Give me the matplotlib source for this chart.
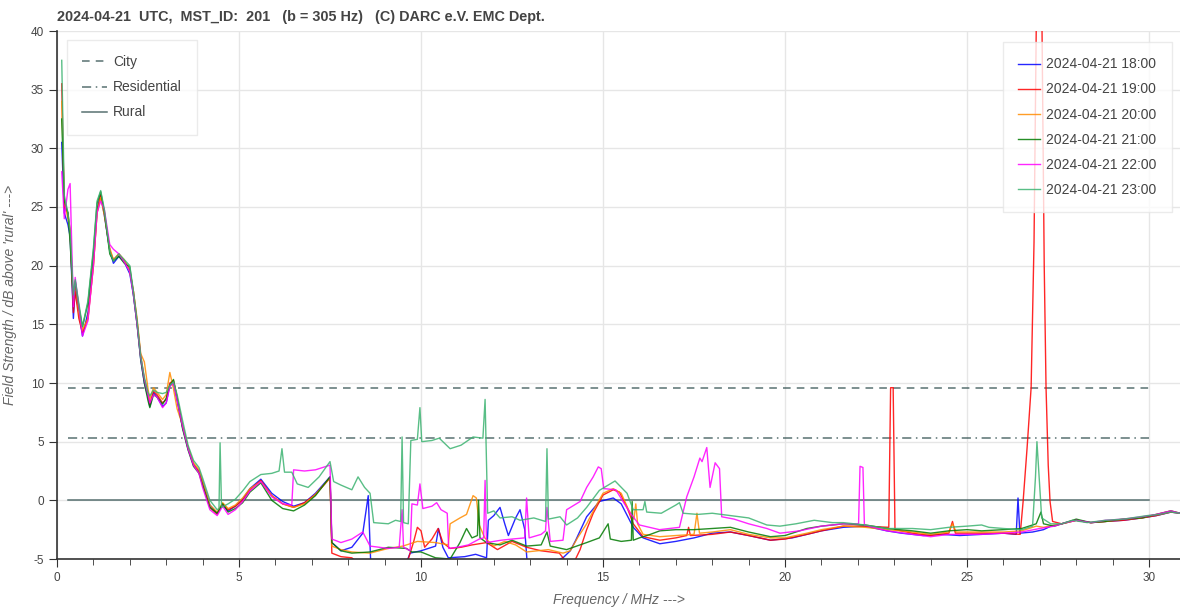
import matplotlib.pyplot as plt
import numpy as np

plt.rcParams['font.family'] = ['Liberation Sans', 'DejaVu Sans']
plt.rcParams['axes.unicode_minus'] = False

# noise level per hour, dB above 'rural'
f_1800 = [0.13, 0.2, 0.3, 0.36, 0.45, 0.5, 0.6, 0.7, 0.85, 1.0, 1.1, 1.2, 1.3, 1.45, 1.55, 1.7, 1.85, 2.0, 2.1, 2.2,
          2.3, 2.4, 2.5, 2.55, 2.65, 2.75, 2.9, 3.0, 3.1, 3.2, 3.3, 3.45, 3.6, 3.75, 3.9, 4.0, 4.2, 4.4, 4.55, 4.7,
          4.9, 5.1, 5.3, 5.6, 5.9, 6.2, 6.5, 6.8, 7.1, 7.5, 7.55, 7.8, 8.1, 8.4, 8.55, 8.62, 9.0, 9.6, 9.7, 10.0,
          10.4, 10.48, 10.6, 10.75, 11.2, 11.5, 11.8, 11.85, 12.0, 12.17, 12.3, 12.4, 12.6, 12.72, 12.85, 12.92, 13.5, 13.9, 14.1, 14.25,
          14.55, 14.9, 15.28, 15.5, 15.83, 16.1, 16.56, 17.0, 17.5, 18.0, 18.5, 19.0, 19.6, 20.2, 20.6, 21.0, 21.6, 22.2, 22.8, 23.2,
          23.8, 24.3, 24.8, 25.4, 26.0, 26.35, 26.4, 26.45, 26.8, 27.1, 27.3, 27.6, 28.0, 28.4, 28.8, 29.3, 29.8, 30.2, 30.6, 30.85]
v_1800 = [30.5, 24.5, 23.5, 22.5, 15.5, 18.0, 16.0, 14.0, 16.0, 20.5, 24.8, 26.0, 24.3, 21.3, 20.2, 20.8, 20.3, 19.3, 17.5, 15.0,
          12.0, 10.0, 8.8, 8.0, 9.2, 8.8, 8.0, 8.3, 9.8, 10.0, 8.5, 6.2, 4.4, 3.0, 2.5, 1.6, -0.4, -1.1, -0.4, -0.9,
          -0.5, 0.1, 1.0, 1.8, 0.6, -0.1, -0.5, -0.2, 0.6, 2.0, -3.6, -4.3, -4.0, -2.8, 0.4, -5.5, -5.5, -5.3, -4.5, -4.3,
          -3.9, -2.4, -4.0, -4.9, -4.8, -4.6, -4.9, -1.7, -1.3, -0.6, -2.0, -3.0, -1.5, -0.8, -2.5, -5.5, -5.4, -4.9, -4.3, -3.4,
          -1.4, -0.1, 0.2, -0.3, -2.3, -3.2, -3.7, -3.5, -3.2, -2.8, -2.7, -3.0, -3.4, -3.2, -2.9, -2.6, -2.3, -2.2, -2.6, -2.8,
          -3.0, -2.9, -3.0, -2.9, -2.8, -2.9, 0.2, -2.8, -2.7, -2.5, -2.2, -2.0, -1.7, -1.9, -1.8, -1.7, -1.5, -1.3, -1.0, -1.1]

f_1900 = [0.13, 0.2, 0.3, 0.36, 0.45, 0.5, 0.6, 0.7, 0.85, 1.0, 1.1, 1.2, 1.3, 1.45, 1.55, 1.7, 1.85, 2.0, 2.1, 2.2,
          2.3, 2.4, 2.5, 2.55, 2.65, 2.75, 2.9, 3.0, 3.1, 3.2, 3.3, 3.45, 3.6, 3.75, 3.9, 4.0, 4.2, 4.4, 4.55, 4.7,
          4.9, 5.1, 5.3, 5.6, 5.9, 6.2, 6.5, 6.8, 7.1, 7.5, 7.55, 7.8, 8.1, 8.3, 9.6, 9.8, 9.9, 10.0, 10.1, 10.3,
          10.47, 10.6, 10.8, 11.1, 11.4, 11.8, 12.1, 12.5, 12.9, 13.3, 13.8, 14.0, 14.2, 14.37, 14.55, 14.73, 15.0, 15.28, 15.45, 15.66,
          15.83, 16.1, 16.56, 17.0, 17.3, 17.35, 17.4, 18.0, 18.5, 19.0, 19.6, 20.0, 20.6, 21.0, 21.6, 22.2, 22.85, 22.9, 22.97, 23.02,
          23.5, 24.0, 24.5, 24.6, 24.68, 25.4, 26.0, 26.46, 26.54, 26.65, 26.76, 26.84, 26.9, 26.98, 27.06, 27.12, 27.17, 27.23, 27.28, 27.35,
          27.6, 28.0, 28.4, 28.8, 29.3, 29.8, 30.2, 30.6, 30.85]
v_1900 = [35.5, 25.0, 24.5, 23.0, 16.0, 17.8, 15.5, 14.3, 15.5, 20.0, 24.5, 26.0, 24.5, 21.3, 20.5, 21.0, 20.4, 19.6, 17.8, 15.2,
          12.3, 10.3, 9.0, 8.2, 9.3, 9.0, 8.3, 8.6, 10.0, 10.2, 8.8, 6.3, 4.5, 3.1, 2.4, 1.4, -0.6, -1.2, -0.3, -0.8,
          -0.5, 0.0, 0.9, 1.7, 0.4, -0.3, -0.6, -0.2, 0.5, 1.9, -4.5, -4.8, -4.9, -5.5, -5.5, -3.5, -2.3, -2.6, -4.0, -3.3,
          -2.4, -3.6, -4.1, -4.0, -3.8, -3.6, -4.2, -3.5, -4.0, -4.3, -4.5, -5.3, -5.3, -4.2, -2.5, -1.1, 0.45, 0.9, 0.7, -0.6,
          -2.0, -3.1, -3.4, -3.2, -3.0, -2.3, -3.0, -2.9, -2.7, -3.0, -3.4, -3.3, -2.9, -2.6, -2.2, -2.2, -2.3, 9.6, 9.6, -2.5,
          -2.8, -3.0, -2.8, -1.8, -2.8, -2.8, -2.8, -2.9, -0.1, 4.5, 9.6, 22.0, 40.0, 50.0, 40.0, 20.0, 9.6, 3.0, -0.1, -1.8,
          -2.0, -1.7, -1.9, -1.8, -1.7, -1.5, -1.3, -1.0, -1.1]

f_2000 = [0.13, 0.2, 0.3, 0.36, 0.45, 0.5, 0.6, 0.7, 0.85, 1.0, 1.1, 1.2, 1.3, 1.45, 1.55, 1.7, 1.85, 2.0, 2.1, 2.2,
          2.3, 2.4, 2.5, 2.55, 2.65, 2.75, 2.9, 3.0, 3.1, 3.2, 3.3, 3.45, 3.6, 3.75, 3.9, 4.0, 4.2, 4.4, 4.55, 4.7,
          4.9, 5.1, 5.3, 5.6, 5.9, 6.2, 6.5, 6.8, 7.1, 7.5, 7.55, 7.8, 8.1, 8.6, 9.1, 9.5, 9.9, 10.4, 10.75, 10.8,
          11.07, 11.25, 11.43, 11.52, 11.6, 11.75, 12.0, 12.3, 12.6, 12.9, 13.5, 13.9, 14.1, 14.3, 14.55, 14.8, 15.0, 15.28, 15.5, 15.7,
          15.85, 15.9, 15.95, 16.1, 16.56, 17.0, 17.5, 17.58, 17.65, 18.0, 18.5, 19.0, 19.6, 20.0, 20.6, 21.0, 21.6, 22.2, 22.8, 23.5,
          24.0, 24.5, 24.6, 24.7, 25.4, 26.0, 26.5, 26.9, 27.1, 27.4, 27.6, 28.0, 28.4, 28.8, 29.3, 29.8, 30.2, 30.6, 30.85]
v_2000 = [34.0, 25.5, 24.0, 23.0, 17.0, 18.5, 16.0, 14.5, 15.5, 20.0, 24.5, 25.8, 24.3, 21.5, 20.5, 21.0, 20.5, 19.5, 17.8, 15.5,
          12.5, 11.8, 9.5, 8.6, 9.6, 9.2, 8.6, 9.0, 10.9, 9.5, 7.8, 6.4, 4.5, 3.2, 2.6, 1.6, -0.4, -1.0, -0.2, -0.7,
          -0.4, 0.2, 1.0, 1.6, 0.4, -0.3, -0.6, -0.3, 0.5, 1.9, -3.9, -4.2, -4.4, -4.5, -4.1, -3.9, -3.5, -3.6, -3.8, -2.0,
          -1.5, -1.2, 0.4, 0.2, -2.1, -3.2, -3.9, -3.5, -3.8, -4.4, -4.2, -4.5, -4.3, -3.2, -2.0, -0.5, 0.6, 1.0, 0.6, -0.8,
          -1.6, -0.3, -2.0, -2.9, -3.1, -3.0, -2.9, -1.1, -2.8, -2.7, -2.5, -2.9, -3.2, -3.2, -2.8, -2.5, -2.2, -2.3, -2.5, -2.7,
          -2.9, -2.7, -2.0, -2.7, -2.7, -2.7, -2.6, -2.2, -2.3, -2.1, -2.0, -1.7, -1.9, -1.8, -1.6, -1.5, -1.2, -0.9, -1.1]

f_2100 = [0.13, 0.2, 0.3, 0.36, 0.45, 0.5, 0.6, 0.7, 0.85, 1.0, 1.1, 1.2, 1.3, 1.45, 1.55, 1.7, 1.85, 2.0, 2.1, 2.2,
          2.3, 2.4, 2.5, 2.55, 2.65, 2.75, 2.9, 3.0, 3.1, 3.2, 3.3, 3.45, 3.6, 3.75, 3.9, 4.0, 4.2, 4.4, 4.55, 4.7,
          4.9, 5.1, 5.3, 5.6, 5.9, 6.2, 6.5, 6.8, 7.1, 7.5, 7.55, 7.8, 8.1, 8.6, 9.1, 9.6, 9.75, 10.0, 10.4, 10.8,
          11.07, 11.25, 11.4, 11.55, 11.58, 11.62, 11.8, 12.17, 12.5, 12.9, 13.3, 13.46, 13.55, 14.0, 14.55, 14.9, 15.14, 15.2, 15.5, 15.78,
          15.8, 15.83, 16.0, 16.3, 16.56, 17.0, 17.5, 18.0, 18.5, 19.0, 19.6, 20.0, 20.6, 21.0, 21.6, 22.2, 22.8, 23.5, 24.0, 24.5,
          25.0, 25.4, 26.0, 26.5, 26.9, 27.03, 27.1, 27.4, 27.7, 28.0, 28.4, 28.8, 29.3, 29.8, 30.2, 30.6, 30.85]
v_2100 = [32.5, 25.5, 24.5, 22.0, 17.0, 18.7, 16.5, 14.8, 16.8, 21.2, 25.3, 26.3, 24.6, 21.0, 20.4, 20.8, 20.2, 19.9, 17.5, 15.0,
          12.0, 10.0, 8.5, 7.9, 9.0, 8.8, 8.2, 8.7, 9.8, 10.3, 8.7, 6.1, 4.3, 2.9, 2.3, 1.3, -0.6, -1.1, -0.3, -1.0,
          -0.7, -0.2, 0.7, 1.5, 0.0, -0.7, -0.9, -0.4, 0.4, 2.0, -3.6, -4.3, -4.5, -4.4, -4.0, -4.1, -4.4, -4.4, -4.9, -5.0,
          -3.6, -2.4, -3.2, -3.0, 0.0, -3.2, -3.6, -3.8, -3.4, -3.9, -3.8, -2.7, -3.9, -4.2, -3.6, -3.2, -2.0, -3.3, -3.5, -3.4,
          -0.1, -3.4, -3.2, -2.9, -2.6, -2.5, -2.5, -2.4, -2.3, -2.7, -3.1, -3.0, -2.4, -2.2, -2.0, -2.1, -2.4, -2.6, -2.8, -2.6,
          -2.5, -2.6, -2.5, -2.4, -2.0, -1.0, -2.0, -2.2, -1.9, -1.6, -1.9, -1.8, -1.6, -1.5, -1.2, -0.9, -1.1]

f_2200 = [0.13, 0.2, 0.3, 0.36, 0.45, 0.5, 0.6, 0.7, 0.85, 1.0, 1.1, 1.2, 1.3, 1.45, 1.55, 1.7, 1.85, 2.0, 2.1, 2.2,
          2.3, 2.4, 2.5, 2.55, 2.65, 2.75, 2.9, 3.0, 3.1, 3.2, 3.3, 3.45, 3.6, 3.75, 3.9, 4.0, 4.2, 4.4, 4.55, 4.7,
          4.9, 5.1, 5.3, 5.6, 5.9, 6.2, 6.45, 6.5, 6.8, 7.1, 7.3, 7.5, 7.55, 7.8, 8.1, 8.4, 8.6, 9.1, 9.4, 9.48,
          9.52, 9.7, 9.75, 9.9, 9.97, 10.05, 10.3, 10.43, 10.55, 10.72, 10.76, 11.0, 11.3, 11.6, 11.72, 11.76, 11.8, 12.2, 12.5, 12.85,
          12.9, 12.97, 13.3, 13.42, 13.46, 13.55, 13.9, 14.0, 14.37, 14.55, 14.73, 14.87, 14.95, 15.02, 15.35, 15.75, 16.0, 16.55, 17.1, 17.3,
          17.5, 17.66, 17.72, 17.85, 17.94, 18.08, 18.2, 18.26, 18.6, 19.0, 19.5, 19.86, 20.4, 21.0, 21.6, 22.02, 22.06, 22.14, 22.18, 22.8,
          23.5, 24.0, 24.5, 25.0, 25.4, 26.0, 26.5, 27.0, 27.4, 27.7, 28.0, 28.4, 28.8, 29.3, 29.8, 30.2, 30.6, 30.85]
v_2200 = [28.0, 24.0, 26.5, 27.0, 16.5, 19.0, 16.5, 14.0, 15.3, 20.0, 24.5, 25.5, 24.8, 21.8, 21.4, 21.0, 20.3, 19.5, 17.5, 15.0,
          12.2, 10.3, 9.0, 8.3, 9.0, 8.8, 7.9, 8.3, 9.7, 10.0, 8.5, 6.3, 4.4, 3.0, 2.3, 1.1, -0.8, -1.3, -0.5, -1.2,
          -0.8, -0.1, 0.8, 1.6, 0.3, -0.3, -0.4, 2.6, 2.5, 2.6, 2.8, 3.0, -3.3, -3.6, -3.3, -2.7, -3.9, -4.1, -4.0, -0.8,
          -4.0, -4.3, -0.3, -0.4, 1.4, -0.7, -0.5, -0.2, -0.8, -1.1, -4.1, -4.0, -3.8, -3.3, -3.2, 1.7, -3.6, -3.4, -3.3, -3.2,
          0.2, -3.2, -2.9, -2.6, -0.6, -3.5, -3.4, -0.8, -0.1, 1.1, 2.0, 2.85, 2.7, 1.0, 0.9, -1.1, -2.1, -2.5, -2.3, 0.3,
          2.0, 3.6, 3.3, 4.5, 1.1, 3.2, 2.7, -1.4, -1.6, -2.0, -2.4, -2.8, -2.6, -2.2, -2.0, -2.0, 2.9, 2.8, -2.1, -2.6,
          -2.9, -3.1, -2.9, -2.9, -2.9, -2.8, -2.7, -2.4, -2.2, -1.9, -1.7, -1.9, -1.7, -1.6, -1.4, -1.2, -0.9, -1.1]

f_2300 = [0.13, 0.2, 0.3, 0.36, 0.45, 0.5, 0.6, 0.7, 0.85, 1.0, 1.1, 1.2, 1.3, 1.45, 1.55, 1.7, 1.85, 2.0, 2.1, 2.2,
          2.3, 2.4, 2.5, 2.55, 2.65, 2.75, 2.9, 3.0, 3.1, 3.2, 3.3, 3.45, 3.6, 3.75, 3.9, 4.0, 4.2, 4.4, 4.45, 4.48,
          4.52, 4.7, 4.9, 5.1, 5.3, 5.6, 5.9, 6.1, 6.18, 6.25, 6.45, 6.6, 6.9, 7.2, 7.5, 7.6, 7.8, 8.1, 8.27, 8.45,
          8.6, 8.7, 9.1, 9.3, 9.44, 9.48, 9.52, 9.65, 9.72, 9.9, 9.97, 10.02, 10.3, 10.5, 10.8, 11.1, 11.43, 11.7, 11.76, 11.83,
          12.0, 12.17, 12.5, 12.72, 13.1, 13.42, 13.46, 13.5, 13.82, 14.0, 14.3, 14.55, 14.9, 15.33, 15.66, 15.83, 16.1, 16.15, 16.2, 16.6,
          17.0, 17.1, 17.2, 17.6, 18.0, 18.5, 19.0, 19.5, 19.86, 20.3, 20.8, 21.3, 21.6, 22.2, 22.8, 23.5, 24.0, 24.5, 25.0, 25.4,
          25.6, 26.0, 26.5, 26.8, 26.88, 26.92, 26.98, 27.05, 27.3, 27.6, 27.9, 28.3, 28.8, 29.3, 29.95, 30.3, 30.6, 30.85]
v_2300 = [37.5, 26.0, 24.5, 23.0, 17.5, 18.8, 16.8, 14.8, 17.0, 21.5, 25.5, 26.4, 24.8, 21.2, 20.4, 21.0, 20.5, 20.0, 17.8, 15.3,
          12.3, 10.5, 9.2, 8.9, 9.4, 9.2, 9.1, 9.2, 9.8, 10.1, 9.0, 6.8, 4.7, 3.4, 2.8, 1.9, 0.0, -0.8, -0.7, 4.9,
          -0.6, -0.3, 0.1, 0.8, 1.6, 2.2, 2.3, 2.5, 4.4, 2.4, 2.4, 1.4, 1.1, 2.0, 3.3, 1.6, 1.3, 0.9, 2.0, 1.1,
          0.6, -1.9, -2.0, -1.7, -1.8, 5.4, -1.9, -2.0, 5.1, 5.2, 7.9, 5.0, 5.1, 5.3, 4.4, 4.7, 5.4, 5.3, 8.6, -1.1,
          -0.9, -1.5, -1.4, -1.7, -1.5, -1.8, 4.4, -1.6, -1.4, -2.1, -1.5, -0.6, 0.85, 1.65, 0.6, -0.8, -0.8, -0.1, -1.0, -1.1,
          -0.4, -0.2, -1.1, -1.2, -1.1, -1.3, -1.5, -2.1, -2.2, -2.0, -1.7, -1.9, -1.9, -2.1, -2.4, -2.4, -2.5, -2.3, -2.2, -2.1,
          -2.3, -2.4, -2.5, -2.2, 2.0, 5.0, 2.0, -1.5, -2.0, -2.0, -1.7, -1.9, -1.7, -1.6, -1.3, -1.2, -1.0, -1.1]

hours = ['2024-04-21 18:00', '2024-04-21 19:00', '2024-04-21 20:00',
         '2024-04-21 21:00', '2024-04-21 22:00', '2024-04-21 23:00']
colors = ['#0000ff', '#ff0000', '#ff8c00', '#007a00', '#ff00ff', '#3cb371']

# Grenzwerte
limits = {'City': 9.6, 'Residential': 5.3, 'Rural': 0.0}
limit_styles = {'City': (0, (5, 4)), 'Residential': (0, (6, 3, 1, 3)), 'Rural': '-'}

fig = plt.figure(figsize=(11.8, 6.1), dpi=100)
ax = fig.add_axes([57 / 1180, 51 / 610, 1123 / 1180, 528 / 610])

lim_handles = []
for name, val in limits.items():
    h, = ax.plot([0.3, 30.0], [val, val], color='#2f4f4f', alpha=0.8, lw=1.1,
                 linestyle=limit_styles[name], label=name)
    lim_handles.append(h)

series = [(f_1800, v_1800), (f_1900, v_1900), (f_2000, v_2000),
          (f_2100, v_2100), (f_2200, v_2200), (f_2300, v_2300)]
hour_handles = []
for (f, v), lab, c in zip(series, hours, colors):
    h, = ax.plot(f, v, color=c, lw=1.0, alpha=0.85, label=lab)
    hour_handles.append(h)

ax.set_xlim(0, 30.85)
ax.set_ylim(-5, 40)
ax.set_xticks(np.arange(0, 31, 5))
ax.set_xticks(np.arange(0, 31, 1), minor=True)
ax.set_yticks(np.arange(-5, 41, 5))
ax.grid(True, which='major', color='#e6e6e6', lw=1.0)
ax.set_axisbelow(True)
for s in ['top', 'right']:
    ax.spines[s].set_visible(False)
for s in ['left', 'bottom']:
    ax.spines[s].set_color('#333333')
    ax.spines[s].set_linewidth(1.2)
ax.tick_params(which='major', length=6, color='#333333', labelsize=8.5, labelcolor='#444444')
ax.tick_params(which='minor', length=4, color='#333333')

ax.set_xlabel('Frequency / MHz --->', fontsize=10, style='italic', color='#666666', labelpad=6)
ax.set_ylabel("Field Strength / dB above 'rural' --->", fontsize=10, style='italic', color='#666666', labelpad=10)

fig.text(57 / 1180, 1 - 17 / 610, '2024-04-21  UTC,  MST_ID:  201   (b = 305 Hz)   (C) DARC e.V. EMC Dept.',
         fontsize=10.4, fontweight='bold', color='#444444', va='center', ha='left')

leg1 = ax.legend(handles=lim_handles, loc='upper left', bbox_to_anchor=(0.009, 0.983),
                 borderaxespad=0, fontsize=10, frameon=True, fancybox=False, edgecolor='#e6e6e6',
                 labelcolor='#444444', handlelength=1.8, handletextpad=0.4,
                 borderpad=1.1, labelspacing=0.8)
leg1.get_frame().set_alpha(0.8)
ax.add_artist(leg1)
leg2 = ax.legend(handles=hour_handles, loc='upper right', bbox_to_anchor=(0.993, 0.979),
                 borderaxespad=0, fontsize=10, frameon=True, fancybox=False, edgecolor='#e6e6e6',
                 labelcolor='#444444', handlelength=1.6, handletextpad=0.45,
                 borderpad=1.1, labelspacing=0.8)
leg2.get_frame().set_alpha(0.8)

fig.savefig('out.png', dpi=100)
